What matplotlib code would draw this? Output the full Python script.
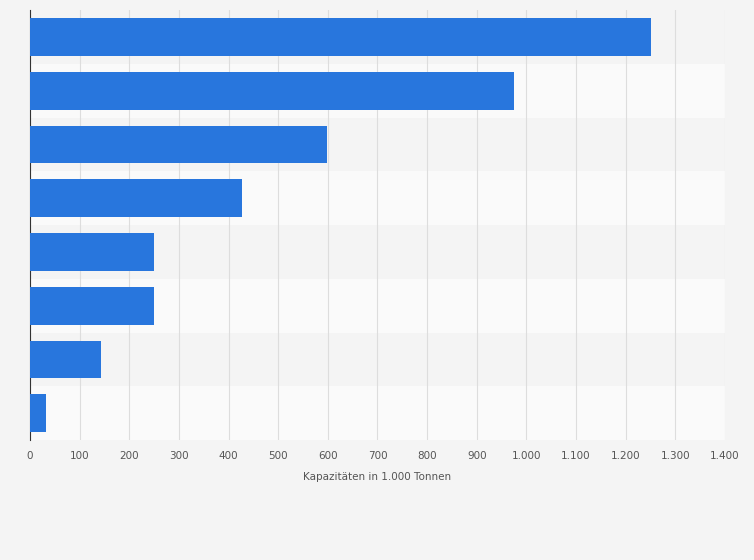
import matplotlib
matplotlib.use("Agg")
import matplotlib.pyplot as plt
from matplotlib.ticker import FuncFormatter

categories = ["A", "B", "C", "D", "E", "F", "G", "H"]
values = [1250, 974, 598, 428, 249, 249, 144, 32]
ticks = list(range(0, 1401, 100))

fig = plt.figure(figsize=(7.54, 5.60), dpi=100, facecolor="#f4f4f4")
ax = fig.add_axes([0.0398, 0.214, 0.9217, 0.768])
ax.set_facecolor("#f4f4f4")
n = len(categories)
for i in range(n):
    ax.axhspan(i - 0.5, i + 0.5, color="#f4f4f4" if i % 2 == 0 else "#fafafa", zorder=0, lw=0)
ax.barh(range(n), values, height=0.7, color="#2876dd", zorder=3)
ax.set_ylim(n - 0.5, -0.5)
ax.set_xlim(0, 1400)
ax.set_xticks(ticks)
ax.xaxis.set_major_formatter(FuncFormatter(lambda v, p: f"{int(v):,}".replace(",", ".")))
ax.set_yticks([])
ax.grid(axis="x", color="#dddddd", lw=0.8, zorder=1)
for s in ["top", "right", "bottom"]:
    ax.spines[s].set_visible(False)
ax.spines["left"].set_color("#333333")
ax.tick_params(axis="x", length=0, labelsize=7.5, labelcolor="#555555", pad=8)
ax.set_xlabel("Kapazitäten in 1.000 Tonnen", fontsize=7.5, color="#555555", labelpad=8)
fig.savefig("out.png", dpi=100, facecolor=fig.get_facecolor())
